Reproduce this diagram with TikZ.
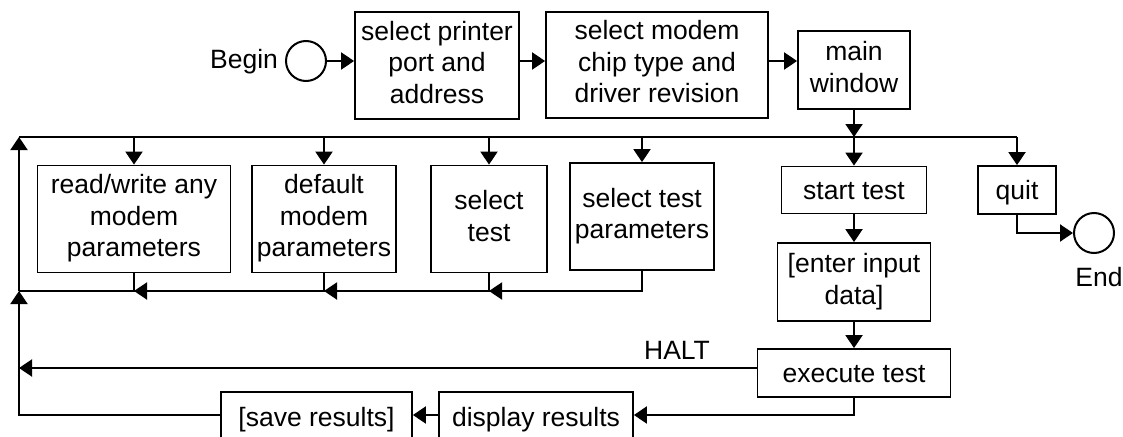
\documentclass[tikz,border=0pt]{standalone}
\usepackage{fontspec}
\setmainfont{Liberation Sans}
\usetikzlibrary{arrows.meta}
\newcommand{\linestrut}{\rule[-6.5pt]{0pt}{31.5pt}}
\begin{document}
\begin{tikzpicture}[x=1pt,y=-1pt,
  txt/.style={inner sep=0pt, font=\fontsize{26.5}{31.5}\selectfont},
  box/.style={draw, line width=1.8pt, align=center, inner sep=0pt,
    font=\fontsize{26.5}{31.5}\selectfont,
    execute at begin node={\linestrut}, execute at end node={\linestrut}},
  term/.style={draw, circle, line width=2pt, minimum size=40pt, inner sep=0pt},
  conn/.style={line width=2pt, -{Triangle[length=13pt,width=17pt]}},
  plain/.style={line width=2pt}]
\clip (0,0) rectangle (1123,436);
\useasboundingbox (0,0) rectangle (1123,436);
% top row
\node[term] (beg) at (306,61) {};
\node[txt] (begl) at (244,62) {Begin};
\node[box, minimum width=164pt, minimum height=107pt] (b1) at (437,65.5) {select printer\\port and\\address};
\node[box, minimum width=222pt, minimum height=106pt] (b2) at (657,65) {select modem\\chip type and\\driver revision};
\node[box, minimum width=112pt, minimum height=78pt] (mw) at (854,70) {main\\window};
% second row
\node[box, minimum width=193pt, minimum height=107pt] (rw) at (134,219) {read/write any\\modem\\parameters};
\node[box, minimum width=144pt, minimum height=107pt] (dm) at (324,219) {default\\modem\\parameters};
\node[box, minimum width=116pt, minimum height=107pt] (st) at (489,219) {select\\test};
\node[box, minimum width=144pt, minimum height=107pt] (tp) at (642,216.5) {select test\\parameters};
\node[box, minimum width=145pt, minimum height=47pt] (start) at (854,190) {start test};
\node[box, minimum width=78pt, minimum height=48pt] (quit) at (1017,190) {quit};
\node[term] (endc) at (1094,233) {};
\node[txt] (endl) at (1099,277) {End};
% lower
\node[box, minimum width=153pt, minimum height=78pt] (enter) at (854,282) {[enter input\\data]};
\node[box, minimum width=193pt, minimum height=48pt] (exec) at (854,373) {execute test};
\node[box, minimum width=194pt, minimum height=50pt] (disp) at (536,417) {display results};
\node[box, minimum width=191pt, minimum height=50pt] (save) at (316.5,417) {[save results]};
\node[txt] (halt) at (677,350) {HALT};
% junction coordinates
\coordinate (busL) at (19,137);
\coordinate (lbus) at (19,291);
\coordinate (haltL) at (19,368);
\coordinate (botL) at (19,415);
% top chain
\draw[conn] (beg.east) -- (b1.west |- beg.east);
\draw[conn] (b1.east |- beg.east) -- (b2.west |- beg.east);
\draw[conn] (b2.east |- beg.east) -- (mw.west |- beg.east);
% upper bus
\draw[plain] (busL) -- (quit.north |- busL);
\draw[conn] (mw.south) -- (mw.south |- busL);
\foreach \n in {rw,dm,st,tp,start,quit}
  \draw[conn] (\n.north |- busL) -- (\n.north);
% lower bus
\draw[conn] (tp.south) |- (st.south |- lbus);
\draw[conn] (st.south) |- (dm.south |- lbus);
\draw[conn] (dm.south) |- (rw.south |- lbus);
\draw[plain] (rw.south) |- (lbus);
\draw[conn] (lbus) -- (busL);
% test chain
\draw[conn] (start.south) -- (enter.north);
\draw[conn] (enter.south) -- (exec.north);
\draw[conn] (exec.west |- haltL) -- (haltL);
\draw[conn] (exec.south) |- (disp.east |- botL);
\draw[conn] (disp.west |- botL) -- (save.east |- botL);
\draw[conn] (save.west |- botL) -- (botL) -- (lbus);
% quit to end
\draw[conn] (quit.south) |- (endc.west);
\end{tikzpicture}
\end{document}
